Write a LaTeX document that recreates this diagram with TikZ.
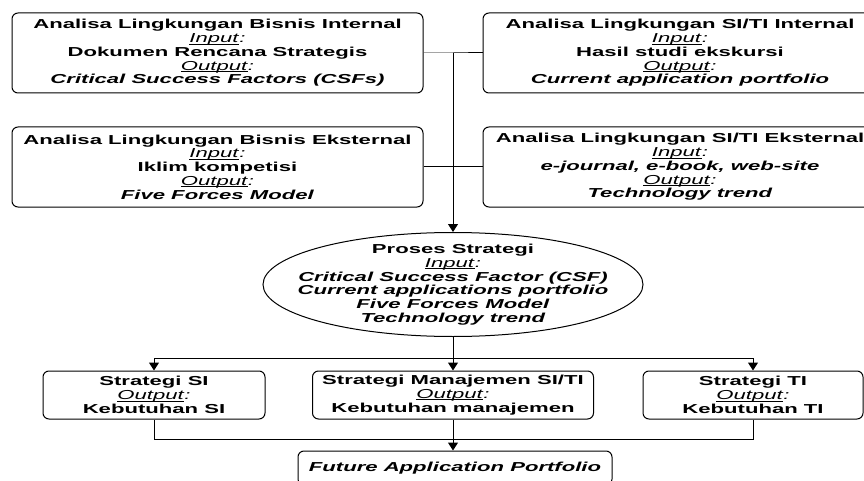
\documentclass[tikz,border=0pt]{standalone}
\usepackage{fontspec}
\setmainfont{Liberation Sans}[FakeStretch=1.7]
\usetikzlibrary{shapes.geometric,arrows.meta}
\newcommand{\myul}[1]{\setbox0\hbox{#1}\rlap{\rule[-1.6pt]{\wd0}{0.7pt}}\box0}
\newcommand{\lbl}[1]{\myul{\textit{#1}}\textit{:}}
\begin{document}
\begin{tikzpicture}[x=1pt,y=-1pt,
  txt/.style={align=center,font=\fontsize{13}{13.7}\selectfont,inner sep=0pt},
  box/.style={txt,draw,line width=1pt,rounded corners=6pt},
  conn/.style={line width=1pt},
  arr/.style={conn,-{Triangle[width=10pt,length=8pt]}}]
\useasboundingbox (0,0) rectangle (864,481);
\clip (0,0) rectangle (864,481);
\fill[white] (0,0) rectangle (864,481);
% top boxes
\node[box,minimum width=411pt,minimum height=80pt] (bi) at (217.5,53)
  {\textbf{Analisa Lingkungan Bisnis Internal}\\ \lbl{Input}\\ \textbf{Dokumen Rencana Strategis}\\ \lbl{Output}\\ \textbf{\textit{Critical Success Factors (CSFs)}}};
\node[box,minimum width=411pt,minimum height=80pt] (be) at (217.5,167)
  {\textbf{Analisa Lingkungan Bisnis Eksternal}\\ \lbl{Input}\\ \textbf{Iklim kompetisi}\\ \lbl{Output}\\ \textbf{\textit{Five Forces Model}}};
\node[box,minimum width=394pt,minimum height=80pt] (si) at (680,53)
  {\textbf{Analisa Lingkungan SI/TI Internal}\\ \lbl{Input}\\ \textbf{Hasil studi ekskursi}\\ \lbl{Output}\\ \textbf{\textit{Current application portfolio}}};
\node[box,minimum width=394pt,minimum height=80pt] (se) at (680,167)
  {\textbf{Analisa Lingkungan SI/TI Eksternal}\\ \lbl{Input}\\ \textbf{\textit{e-journal, e-book, web-site}}\\ \lbl{Output}\\ \textbf{\textit{Technology trend}}};
% ellipse
\node[draw,ellipse,line width=1pt,minimum width=380pt,minimum height=104pt,inner sep=0pt] (ps) at (453,284.5) {};
\node[txt] (pst) at (ps.center)
  {\textbf{Proses Strategi}\\ \lbl{Input}\\ \textbf{\textit{Critical Success Factor (CSF)}}\\ \textbf{\textit{Current applications portfolio}}\\ \textbf{\textit{Five Forces Model}}\\ \textbf{\textit{Technology trend}}};
% bottom boxes
\node[box,minimum width=222pt,minimum height=48pt] (ssi) at (154,395)
  {\textbf{Strategi SI}\\ \lbl{Output}\\ \textbf{Kebutuhan SI}};
\node[box,minimum width=281pt,minimum height=48pt] (smg) at (453,395)
  {\textbf{Strategi Manajemen SI/TI}\\ \lbl{Output}\\ \textbf{Kebutuhan manajemen}};
\node[box,minimum width=220pt,minimum height=48pt] (sti) at (753,395)
  {\textbf{Strategi TI}\\ \lbl{Output}\\ \textbf{Kebutuhan TI}};
\node[box,minimum width=314pt,minimum height=34pt] (fap) at (455,468)
  {\textbf{\textit{Future Application Portfolio}}};
% connectors
\coordinate (j1) at (453,53);
\coordinate (j2) at (453,167);
\coordinate (s1) at (453,358);
\coordinate (m1) at (453,439);
\draw[conn] (bi.east) -- (j1) -- (si.west);
\draw[conn] (be.east) -- (se.west);
\draw[arr] (j1) -- (ps.north);
\draw[conn] (ps.south) -- (s1);
\draw[arr] (s1) -| (ssi.north);
\draw[arr] (s1) -| (sti.north);
\draw[arr] (s1) -- (smg.north);
\draw[conn] (ssi.south) |- (m1);
\draw[conn] (sti.south) |- (m1);
\draw[arr] (smg.south) -- (smg.south |- fap.north);
\end{tikzpicture}
\end{document}
